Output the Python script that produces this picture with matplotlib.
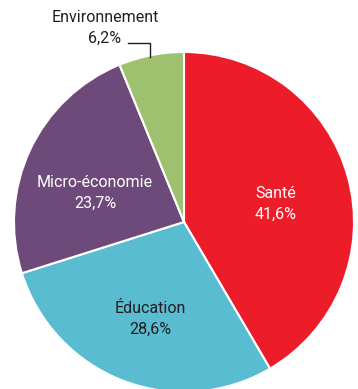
import matplotlib
matplotlib.use('Agg')
import matplotlib.pyplot as plt

plt.rcParams['font.family'] = ['Roboto', 'DejaVu Sans']

labels = ['Santé', 'Éducation', 'Micro-économie', 'Environnement']
values = [41.6, 28.6, 23.7, 6.2]
colors = ['#ED1C29', '#59BCD1', '#6E4A7B', '#9DC16F']
text_colors = ['white', '#231F20', 'white', '#231F20']

W, H = 358, 389
cx, cy, R = 184, 222, 170

fig = plt.figure(figsize=(W / 100, H / 100), dpi=100)
ax = fig.add_axes([0, 0, 1, 1])
ax.pie(values, colors=colors, startangle=90, counterclock=False, radius=1,
       wedgeprops=dict(edgecolor='white', linewidth=1.5))
ax.set_xlim(-cx / R, (W - cx) / R)
ax.set_ylim(-(H - cy) / R, cy / R)
ax.set_aspect('equal')
ax.axis('off')


def px(x, y):
    return (x - cx) / R, (cy - y) / R


def fmt(v):
    return f'{v:.1f}'.replace('.', ',') + '%'


# label centres in pixels
label_pos = [(276, 204), (150, 319), (95, 193), (105, 28)]
for lab, v, (x, y), c in zip(labels, values, label_pos, text_colors):
    ax.text(*px(x, y), f'{lab}\n{fmt(v)}', ha='center', va='center',
            fontsize=11.5, color=c, linespacing=1.45)

# leader line for Environnement
lx, ly = zip(px(128, 43), px(150, 43), px(150, 57))
ax.plot(lx, ly, color='#231F20', lw=1)

fig.savefig('out.png', dpi=100)
